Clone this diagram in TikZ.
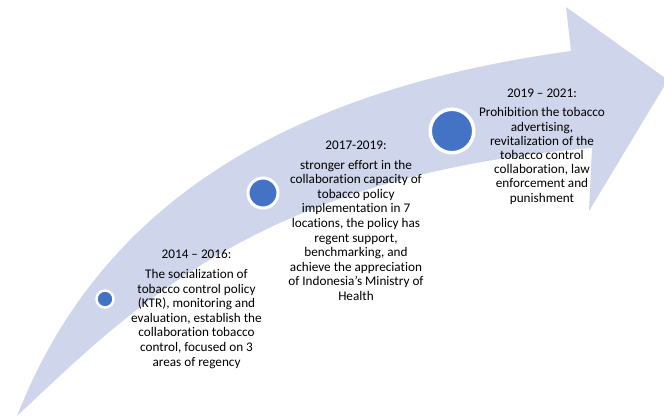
\documentclass[tikz,border=0pt]{standalone}
\usepackage{fontspec}
\setmainfont{Carlito}[Ligatures=NoCommon]
\definecolor{arrowfill}{HTML}{CFD5EA}
\definecolor{dotblue}{HTML}{4472C4}
\begin{document}
\begin{tikzpicture}[x=1pt,y=-1pt,
  dot/.style={circle, fill=dotblue, draw=white, inner sep=0pt},
  stage/.style={align=center, anchor=base, inner sep=0pt, text=black,
    font=\fontsize{13.2}{14.6}\selectfont}]
\useasboundingbox (0,0) rectangle (664,416);
\clip (0,0) rectangle (664,416);
% big curved arrow
\fill[arrowfill] (17,416) .. controls (90,230) and (250,95) .. (571,51)
  -- (566,7) -- (668,80) -- (589,211) -- (592,148)
  .. controls (260,175) and (130,310) .. (17,416) -- cycle;
% dots
\node[dot, minimum size=17pt, line width=2.5pt] (d1) at (105,299) {};
\node[dot, minimum size=30pt, line width=3pt] (d2) at (263,193) {};
\node[dot, minimum size=43.5pt, line width=3.5pt] (d3) at (452,131) {};
% texts (anchored at the baseline of their last line)
\node[stage] (t1) at (196.5,366) {2014 -- 2016:\\[5.4pt]
The socialization of\\ tobacco control policy\\ (KTR), monitoring and\\
evaluation, establish the\\ collaboration tobacco\\ control, focused on 3\\ areas of regency};
\node[stage] (t2) at (356,300.5) {2017-2019:\\[5.4pt]
stronger effort in the\\ collaboration capacity of\\ tobacco policy\\
implementation in 7\\ locations, the policy has\\ regent support,\\
benchmarking, and\\ achieve the appreciation\\ of Indonesia’s Ministry of\\ Health};
\node[stage, font=\fontsize{13.2}{14.2}\selectfont] (t3) at (542,202) {2019 -- 2021:\\[4.8pt]
Prohibition the tobacco\\ advertising,\\ revitalization of the\\
tobacco control\\ collaboration, law\\ enforcement and\\ punishment};
\end{tikzpicture}
\end{document}
